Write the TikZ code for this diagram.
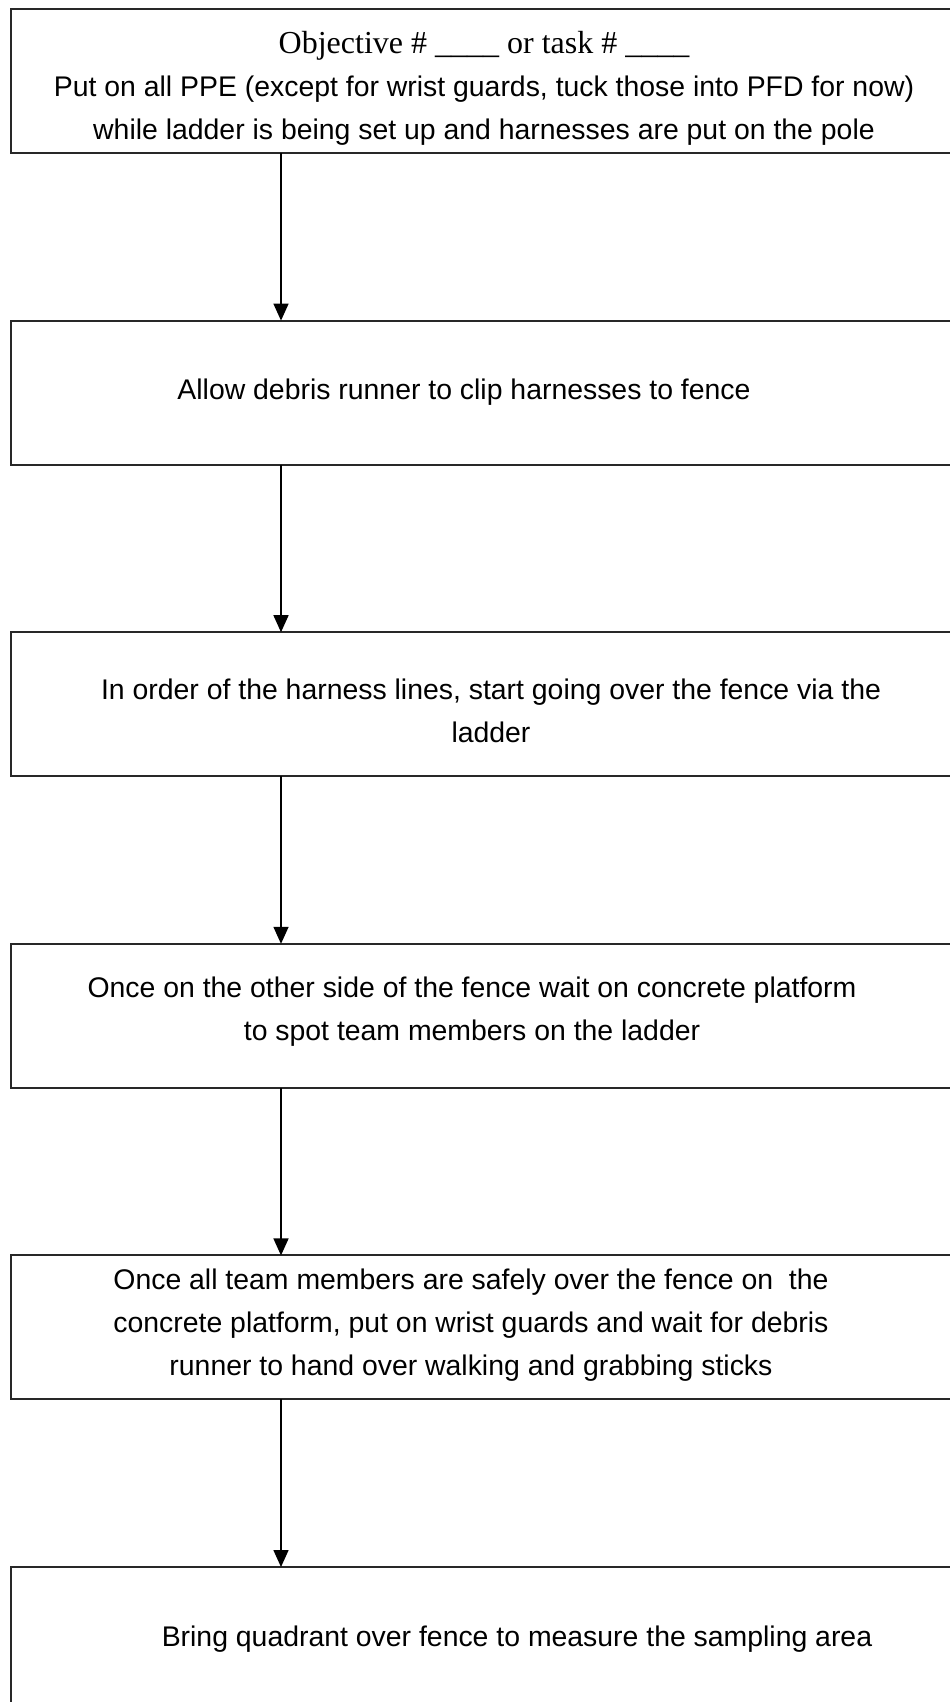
\documentclass[tikz,border=0pt]{standalone}
\usepackage{fontspec}
\usetikzlibrary{arrows.meta,positioning}
\newfontfamily\stepfont{Liberation Sans}
\newfontfamily\headfont{Liberation Serif}
\definecolor{boxline}{RGB}{40,40,40}

\begin{document}
\begin{tikzpicture}[x=0.5pt,y=-0.5pt,>={Triangle[length=8.5pt,width=7.5pt]},node distance=83.8pt,
  stepbox/.style={draw=boxline,line width=1pt,minimum width=474.5pt,minimum height=72pt,inner sep=0pt,outer sep=0pt},
  steptext/.style={align=center,inner sep=0pt,font=\stepfont\fontsize{14.2}{21.5}\selectfont},
  flowline/.style={->,black,line width=0.75pt}]
  \useasboundingbox (0,0) rectangle (949,1702);
  \node[stepbox] (b1) at (485.5,81) {};
  \node[stepbox,below=of b1] (b2) {};  \node[stepbox,below=of b2] (b3) {};
  \node[stepbox,below=of b3] (b4) {};  \node[stepbox,below=of b4] (b5) {};
  \node[stepbox,below=of b5] (b6) {};
  \node[steptext] (t1) at ([xshift=-0.75pt,yshift=-3.5pt]b1.center)
    {{\headfont\fontsize{16}{21}\selectfont Objective \# \_\_\_\_ or task \# \_\_\_\_}\\
     Put on all PPE (except for wrist guards, tuck those into PFD for now)\\
     while ladder is being set up and harnesses are put on the pole};
  \node[steptext] (t2) at ([xshift=-10.75pt]b2.center) {Allow debris runner to clip harnesses to fence};
  \node[steptext] (t3) at ([xshift=2.75pt,yshift=-3.5pt]b3.center)
    {In order of the harness lines, start going over the fence via the\\ ladder};
  \node[steptext] (t4) at ([xshift=-6.75pt,yshift=2pt]b4.center)
    {Once on the other side of the fence wait on concrete platform\\ to spot team members on the ladder};
  \node[steptext] (t5) at ([xshift=-7.25pt,yshift=1pt]b5.center)
    {Once all team members are safely over the fence on\ \ the\\ concrete platform, put on wrist guards and wait for debris\\ runner to hand over walking and grabbing sticks};
  \node[steptext] (t6) at ([xshift=15.75pt]b6.center) {Bring quadrant over fence to measure the sampling area};
  \coordinate (spine) at (281,0);
  \draw[flowline] (b1.south -| spine)--(b2.north -| spine); \draw[flowline] (b2.south -| spine)--(b3.north -| spine);
  \draw[flowline] (b3.south -| spine)--(b4.north -| spine); \draw[flowline] (b4.south -| spine)--(b5.north -| spine);
  \draw[flowline] (b5.south -| spine)--(b6.north -| spine);
\end{tikzpicture}
\end{document}
